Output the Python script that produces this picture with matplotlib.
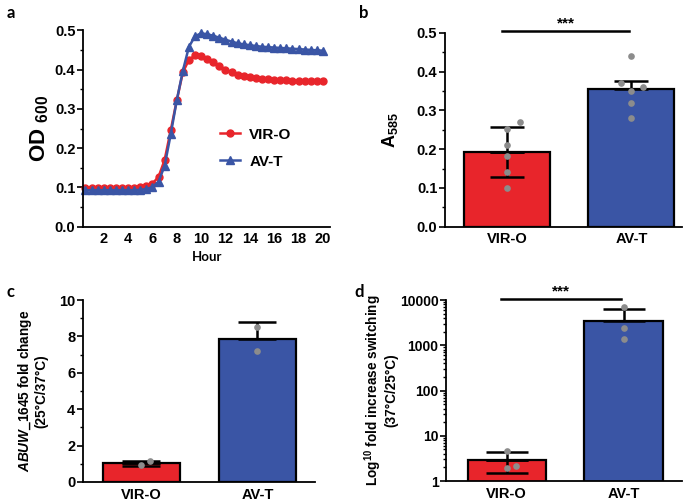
import numpy as np
import matplotlib
matplotlib.use('Agg')
import matplotlib.pyplot as plt
from matplotlib.ticker import MultipleLocator, LogLocator, NullFormatter, FormatStrFormatter

plt.rcParams['font.family'] = ['Liberation Sans', 'DejaVu Sans']
plt.rcParams['font.weight'] = 'bold'
plt.rcParams['axes.labelweight'] = 'bold'
plt.rcParams['mathtext.fontset'] = 'custom'
plt.rcParams['mathtext.rm'] = 'Liberation Sans:bold'
plt.rcParams['mathtext.bf'] = 'Liberation Sans:bold'
plt.rcParams['mathtext.it'] = 'Liberation Sans:italic:bold'

RED = '#E8252B'
BLUE = '#3A55A5'
GREY = '#8C8C8C'

# ---- panel a: growth curves
hours = [0.5, 1.0, 1.5, 2.0, 2.5, 3.0, 3.5, 4.0, 4.5, 5.0,
         5.5, 6.0, 6.5, 7.0, 7.5, 8.0, 8.5, 9.0, 9.5, 10.0,
         10.5, 11.0, 11.5, 12.0, 12.5, 13.0, 13.5, 14.0, 14.5, 15.0,
         15.5, 16.0, 16.5, 17.0, 17.5, 18.0, 18.5, 19.0, 19.5, 20.0]
od_viro = [0.098, 0.098, 0.098, 0.098, 0.098, 0.098, 0.098, 0.098, 0.099, 0.100,
           0.104, 0.110, 0.127, 0.170, 0.245, 0.322, 0.393, 0.425, 0.436, 0.435,
           0.428, 0.419, 0.409, 0.400, 0.393, 0.387, 0.383, 0.380, 0.378, 0.376,
           0.375, 0.374, 0.373, 0.373, 0.372, 0.372, 0.372, 0.371, 0.371, 0.371]
od_avt = [0.093, 0.093, 0.093, 0.093, 0.093, 0.093, 0.093, 0.093, 0.093, 0.094,
          0.096, 0.101, 0.115, 0.155, 0.235, 0.322, 0.397, 0.458, 0.485, 0.492,
          0.490, 0.486, 0.481, 0.476, 0.471, 0.467, 0.464, 0.462, 0.460, 0.458,
          0.457, 0.456, 0.455, 0.454, 0.453, 0.452, 0.451, 0.450, 0.449, 0.448]

groups = ['VIR-O', 'AV-T']

# ---- panel b: A585
b_mean = [0.192, 0.354]
b_err_hi = [0.258, 0.376]
b_err_lo = [0.128, None]
b_pts_viro = [0.271, 0.251, 0.210, 0.182, 0.142, 0.100]
b_off_viro = [0.10, 0, 0, 0, 0, 0]
b_pts_avt = [0.440, 0.371, 0.350, 0.361, 0.320, 0.280]
b_off_avt = [0, -0.08, 0, 0.09, 0, 0]

# ---- panel c: ABUW_1645 fold change
c_mean = [1.06, 7.85]
c_err_hi = [1.18, 8.79]
c_err_lo = [0.88, None]
c_pts_viro = [0.92, 1.16]
c_off_viro = [0, 0.08]
c_pts_avt = [8.50, 7.19]
c_off_avt = [0, 0]

# ---- panel d: fold increase switching (log)
d_mean = [2.95, 3500]
d_err_hi = [4.36, 6220]
d_err_lo = [1.50, None]
d_pts_viro = [4.6, 2.2, 1.97]
d_off_viro = [0, 0.08, 0]
d_pts_avt = [6890, 2450, 1400]
d_off_avt = [0, 0, 0]

fig = plt.figure(figsize=(6.98, 5.04), dpi=100)


def style_axis(ax):
    for s in ['top', 'right']:
        ax.spines[s].set_visible(False)
    for s in ['left', 'bottom']:
        ax.spines[s].set_linewidth(1.3)
    ax.tick_params(axis='y', which='major', length=4, width=1.2, labelsize=10.5, pad=1.5)
    ax.tick_params(axis='y', which='minor', length=2.5, width=1.0)
    ax.tick_params(axis='x', length=0, labelsize=10.5, pad=4)
    for lab in ax.get_xticklabels() + ax.get_yticklabels():
        lab.set_fontweight('bold')


def bar_panel(ax, mean, hi, lo, pts, offs, width, capsize):
    x = [0, 1]
    ax.bar(x, mean, width=width, color=[RED, BLUE], edgecolor='black',
           linewidth=1.6, zorder=2)
    for i in range(2):
        ax.errorbar(x[i], mean[i], yerr=[[0], [hi[i] - mean[i]]], color='black',
                    elinewidth=1.8, capsize=capsize, capthick=1.8, zorder=3)
        if lo[i] is not None:
            ax.errorbar(x[i], mean[i], yerr=[[mean[i] - lo[i]], [0]], color='black',
                        elinewidth=1.8, capsize=capsize, capthick=1.8, zorder=3)
    for i in range(2):
        px = [x[i] + o for o in offs[i]]
        ax.plot(px, pts[i], 'o', color=GREY, markersize=4.8, markeredgewidth=0,
                zorder=4, clip_on=False)
    ax.set_xticks(x)
    ax.set_xticklabels(groups)


# a
ax = fig.add_axes([0.119, 0.550, 0.354, 0.390])
ax.plot(hours, od_viro, '-o', color=RED, lw=1.8, markersize=5, label='VIR-O', clip_on=False)
ax.plot(hours, od_avt, '-^', color=BLUE, lw=1.8, markersize=5.5, label='AV-T', clip_on=False)
ax.set_xlim(0.3, 20.6)
ax.set_ylim(0, 0.5)
ax.set_xticks([2, 4, 6, 8, 10, 12, 14, 16, 18, 20])
ax.yaxis.set_major_locator(MultipleLocator(0.1))
ax.yaxis.set_minor_locator(MultipleLocator(0.05))
ax.yaxis.set_major_formatter(FormatStrFormatter('%.1f'))
style_axis(ax)
ax.set_xlabel('Hour', fontsize=9.5, fontweight='bold', family=['Lato', 'DejaVu Sans'], labelpad=3)
ax.set_ylabel(r'OD $_{\mathregular{600}}$', fontsize=16, labelpad=3)
leg = ax.legend(loc='upper left', bbox_to_anchor=(0.50, 0.575), frameon=False,
                fontsize=11, handlelength=1.3, handletextpad=0.6, labelspacing=0.85,
                markerscale=1.0)
for t in leg.get_texts():
    t.set_fontweight('bold')

# b
ax = fig.add_axes([0.6375, 0.550, 0.340, 0.385])
bar_panel(ax, b_mean, b_err_hi, b_err_lo, [b_pts_viro, b_pts_avt],
          [b_off_viro, b_off_avt], 0.69, 12.5)
ax.set_xlim(-0.5, 1.41)
ax.set_ylim(0, 0.5)
ax.yaxis.set_major_locator(MultipleLocator(0.1))
ax.yaxis.set_minor_locator(MultipleLocator(0.05))
ax.yaxis.set_major_formatter(FormatStrFormatter('%.1f'))
style_axis(ax)
ax.set_ylabel(r'A$_{\mathregular{585}}$', fontsize=13, labelpad=12)
ax.plot([-0.04, 0.98], [0.504, 0.504], color='black', lw=1.8, clip_on=False)
ax.text(0.47, 0.507, '***', ha='center', va='bottom', fontsize=11, fontweight='bold')

# c
ax = fig.add_axes([0.119, 0.0437, 0.333, 0.361])
bar_panel(ax, c_mean, c_err_hi, c_err_lo, [c_pts_viro, c_pts_avt],
          [c_off_viro, c_off_avt], 0.66, 14)
ax.set_xlim(-0.5, 1.5)
ax.set_ylim(0, 10)
ax.yaxis.set_major_locator(MultipleLocator(2))
ax.yaxis.set_minor_locator(MultipleLocator(1))
style_axis(ax)
ax.set_ylabel('$\\mathit{ABUW\\_1645}$ fold change\n(25°C/37°C)', fontsize=9.8,
              labelpad=8, linespacing=1.05)

# d
ax = fig.add_axes([0.639, 0.0456, 0.338, 0.359])
ax.set_yscale('log')
bar_panel(ax, d_mean, d_err_hi, d_err_lo, [d_pts_viro, d_pts_avt],
          [d_off_viro, d_off_avt], 0.67, 15)
ax.set_xlim(-0.52, 1.5)
ax.set_ylim(1, 10000)
ax.set_yticks([1, 10, 100, 1000, 10000])
ax.set_yticklabels(['1', '10', '100', '1000', '10000'])
ax.yaxis.set_minor_locator(LogLocator(base=10, subs=np.arange(2, 10)))
ax.yaxis.set_minor_formatter(NullFormatter())
style_axis(ax)
ax.tick_params(axis='y', which='major', labelsize=10)
ax.set_ylabel('Log$^{\\mathregular{10}}$ fold increase switching\n(37°C/25°C)',
              fontsize=9.8, labelpad=1, linespacing=1.0)
ax.plot([-0.05, 0.98], [10500, 10500], color='black', lw=1.8, clip_on=False)
ax.text(0.465, 10800, '***', ha='center', va='bottom', fontsize=11, fontweight='bold')

# panel letters
for lbl, (x, y) in zip('abcd', [(0.010, 0.975), (0.514, 0.975), (0.010, 0.42), (0.508, 0.42)]):
    fig.text(x, y, lbl, fontsize=12, fontweight='bold', family=['Lato', 'DejaVu Sans'],
             ha='left', va='center')

plt.savefig('out.png', dpi=100)
